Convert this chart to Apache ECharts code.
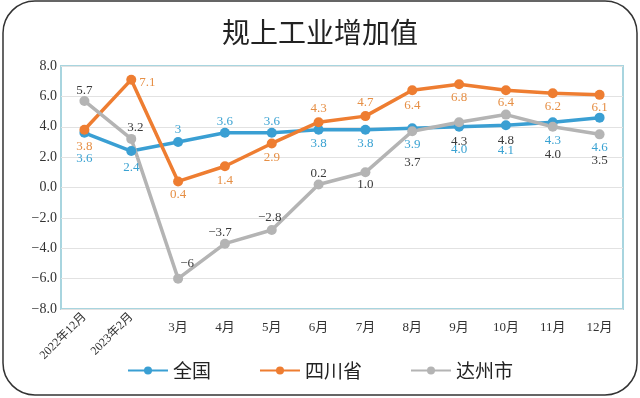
<!DOCTYPE html>
<html>
<head>
<meta charset="utf-8">
<script src="https://cdn.jsdelivr.net/npm/echarts@6/dist/echarts.min.js"></script>
<style>
  html, body { margin: 0; padding: 0; background: #fff; }
  #chart { width: 640px; height: 398px; }
</style>
</head>
<body>
<div id="chart"></div>
<script>
const months = ['2022年12月', '2023年2月', '3月', '4月', '5月', '6月', '7月', '8月', '9月', '10月', '11月', '12月'];
const national = ['3.6', '2.4', '3', '3.6', '3.6', '3.8', '3.8', '3.9', '4.0', '4.1', '4.3', '4.6'];
const sichuan = ['3.8', '7.1', '0.4', '1.4', '2.9', '4.3', '4.7', '6.4', '6.8', '6.4', '6.2', '6.1'];
const dazhou = ['5.7', '3.2', '-6', '-3.7', '-2.8', '0.2', '1.0', '3.7', '4.3', '4.8', '4.0', '3.5'];
const yTicks = { min: -8, max: 8, step: 2 };

const SERIF = '"Liberation Serif", "Noto Sans CJK SC", serif';
const SANS = '"Noto Sans CJK SC", sans-serif';

// label offsets (dx, dy) from the point centre, hand placed like the original
const nationalOff = [[0, 26], [0, 17], [0, -12], [0, -11], [0, -11], [0, 14], [0, 14], [0, 16], [0, 23], [0, 25], [0, 18], [0, 30]];
const sichuanOff = [[0, 17], [16, 3], [0, 13], [0, 14], [0, 14], [0, -14], [0, -14], [0, 15], [0, 13], [0, 12], [0, 13], [0, 13]];
const dazhouOff = [[0, -10], [4, -11], [9, -15], [-5, -11], [-2, -12], [0, -11], [0, 12], [0, 31], [0, 19], [0, 26], [0, 28], [0, 26]];

const minus = (s) => String(s).replace('-', '\u2212');

const makeSeries = (name, values, offsets, color, labelColor) => ({
  name,
  type: 'line',
  data: values.map((v, i) => ({
    value: v,
    label: { offset: offsets[i] },
  })),
  symbol: 'circle',
  symbolSize: 10,
  lineStyle: { width: 3.5, color },
  itemStyle: { color },
  label: {
    show: true,
    position: 'inside',
    color: labelColor,
    fontFamily: SERIF,
    fontSize: 13,
    formatter: (p) => minus(p.data.value),
  },
  z: 3,
});

const chart = echarts.init(document.getElementById('chart'));
chart.setOption({
  backgroundColor: '#fff',
  animation: false,
  title: {
    text: '规上工业增加值',
    left: 'center',
    top: 13,
    textStyle: { fontFamily: SANS, fontSize: 28, fontWeight: 'normal', color: '#222' },
  },
  graphic: [{
    type: 'rect',
    shape: { x: 3, y: 1, width: 634, height: 394, r: 32 },
    style: { fill: 'none', stroke: '#333', lineWidth: 1.5 },
    silent: true,
  }],
  legend: {
    bottom: 13,
    left: 'center',
    itemWidth: 40,
    itemHeight: 10,
    itemGap: 48,
    textStyle: { fontFamily: SANS, fontSize: 19, color: '#222' },
    data: ['全国', '四川省', '达州市'],
  },
  grid: {
    left: 61, right: 17, top: 66, bottom: 89,
    show: true, borderColor: '#a8d5df', borderWidth: 2,
  },
  xAxis: [{
    type: 'category',
    data: months,
    axisLine: { show: false },
    axisTick: { show: false },
    axisLabel: {
      margin: 12,
      color: '#333',
      fontFamily: SERIF,
      fontSize: 13,
      formatter: (v, i) => (i < 2 ? '' : v),
    },
  }, {
    type: 'category',
    data: months,
    position: 'bottom',
    axisLine: { show: false },
    axisTick: { show: false },
    axisLabel: {
      rotate: 45,
      margin: 6,
      color: '#333',
      fontFamily: SERIF,
      fontSize: 12,
      formatter: (v, i) => (i < 2 ? v : ''),
    },
  }],
  yAxis: {
    type: 'value',
    min: yTicks.min,
    max: yTicks.max,
    interval: yTicks.step,
    axisLine: { show: false },
    axisTick: { show: false },
    splitLine: { lineStyle: { color: '#e2e2e2', width: 1 } },
    axisLabel: {
      margin: 4,
      color: '#333',
      fontFamily: SERIF,
      fontSize: 14,
      formatter: (v) => minus(v.toFixed(1)),
    },
  },
  series: [
    makeSeries('全国', national, nationalOff, '#3a9fd3', '#3aa2d2'),
    makeSeries('四川省', sichuan, sichuanOff, '#ee7d31', '#e68f45'),
    makeSeries('达州市', dazhou, dazhouOff, '#b4b4b4', '#3a3a3a'),
  ],
});
</script>
</body>
</html>
